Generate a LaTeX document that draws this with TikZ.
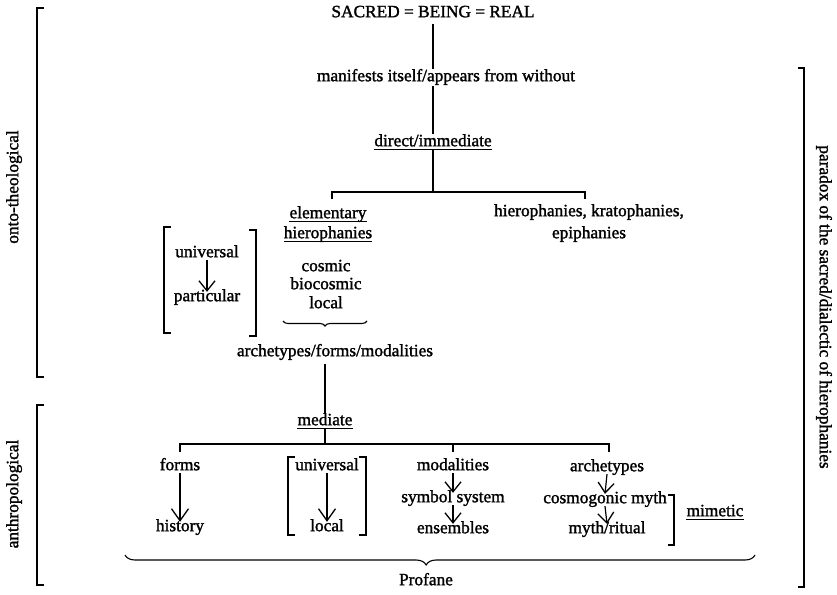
\documentclass[tikz,border=0pt]{standalone}
\usepackage{fontspec}
\setmainfont{Liberation Serif}[FakeBold=1.5]
\usetikzlibrary{arrows.meta,decorations.pathreplacing}
\begin{document}
\begin{tikzpicture}[x=1pt,y=-1pt,
  every node/.style={font=\fontsize{17.3}{20}\selectfont},
  txt/.style={inner xsep=0pt,inner ysep=0pt,text height=2ex,text depth=0.6ex},
  ln/.style={line width=1.2pt},
  ul/.style={line width=1pt},
  brk/.style={line width=1.2pt},
  arr/.style={line width=1.2pt,-{Straight Barb[length=10pt,width=16pt,line width=1.3pt]}},
  arrL/.style={line width=1.2pt,-{Straight Barb[length=12pt,width=17pt,line width=1.3pt]}},
  brc/.style={line width=1.1pt,decorate},
]
\useasboundingbox (0,0) rectangle (837,594);

% text nodes
\node[txt] (sacred) at (433,14) {SACRED = BEING = REAL};
\node[txt] (manif) at (446,78) {manifests itself/appears from without};
\node[txt] (direct) at (433,143) {direct/immediate};
\node[txt] (elem) at (328,215) {elementary};
\node[txt] (hiero) at (328,235) {hierophanies};
\node[txt] (krato) at (589,213) {hierophanies, kratophanies,};
\node[txt] (epiph) at (589,235) {epiphanies};
\node[txt] (univA) at (207,254) {universal};
\node[txt] (partA) at (207,298) {particular};
\node[txt] (cosmic) at (326,268) {cosmic};
\node[txt] (biocos) at (326,286) {biocosmic};
\node[txt] (localA) at (326,305) {local};
\node[txt] (atypes) at (335,353) {archetypes/forms/modalities};
\node[txt] (mediate) at (325,422) {mediate};
\node[txt] (forms) at (180,467) {forms};
\node[txt] (history) at (180,528) {history};
\node[txt] (univB) at (327,467) {universal};
\node[txt] (localB) at (327,528) {local};
\node[txt] (modal) at (453,467) {modalities};
\node[txt] (symbol) at (453,499) {symbol system};
\node[txt] (ensem) at (453,530) {ensembles};
\node[txt] (archB) at (607,468) {archetypes};
\node[txt] (cosmo) at (605,500) {cosmogonic myth};
\node[txt] (mythr) at (607,530) {myth/ritual};
\node[txt] (mimetic) at (715,513) {mimetic};
\node[txt] (profane) at (426,582) {Profane};
\node[txt,rotate=90] (onto) at (15,187) {onto-theological};
\node[txt,rotate=90] (anthro) at (15,494) {anthropological};
\node[txt,rotate=-90] (paradox) at (823,307) {paradox of the sacred/dialectic of hierophanies};

% underlines
\foreach \n in {direct,elem,hiero,mediate,mimetic}
  \draw[ul] (\n.south west) -- (\n.south east);

% upper tree
\draw[ln] ([yshift=-4pt]sacred.south) -- ([yshift=3pt]sacred.south |- manif.north);
\draw[ln] ([yshift=-2pt]manif.south -| direct.north) -- ([yshift=3pt]direct.north);
\coordinate (jA) at (433,192);
\coordinate (cL) at (332,192);
\coordinate (cR) at (585,192);
\coordinate (cLd) at (332,199);
\coordinate (cRd) at (585,199);
\draw[ln] (direct.south) -- (jA);
\draw[ln] (cLd) -- (cL) -- (cR) -- (cRd);
\draw[arr] (univA.south) -- (partA.north);
\draw[brc,decoration={brace,mirror,amplitude=5pt}] (283,321) -- (367,321);

% small brackets upper
\draw[brk] (171,227) -- (164,227) -- (164,333) -- (171,333);
\draw[brk] (249,230) -- (256,230) -- (256,336) -- (249,336);

% lower tree
\draw[ln] ([yshift=-5pt]atypes.south -| mediate.north) -- ([yshift=2pt]mediate.north);
\coordinate (jB) at (325,444);
\coordinate (dL) at (180,444);
\coordinate (dR) at (609,444);
\coordinate (dM) at (453,444);
\coordinate (dLd) at (180,452);
\coordinate (dMd) at (453,452);
\coordinate (dRd) at (609,452);
\draw[ln] (mediate.south) -- (jB);
\draw[ln] (dLd) -- (dL) -- (dR) -- (dRd);
\draw[ln] (dM) -- (dMd);
\draw[arrL] (forms.south) -- (history.north);
\draw[arrL] (univB.south) -- (localB.north);
\draw[arr] (modal.south) -- (symbol.north);
\draw[arr] (symbol.south) -- (ensem.north);
\draw[arr] (archB.south) -- (cosmo.north);
\draw[arr] (cosmo.south) -- (mythr.north);

% lower brackets
\draw[brk] (295,457) -- (288,457) -- (288,535) -- (295,535);
\draw[brk] (359,457) -- (366,457) -- (366,535) -- (359,535);
\draw[brk] (668,495) -- (674,495) -- (674,545) -- (668,545);

% big brace
\draw[brc,decoration={brace,mirror,amplitude=10pt,aspect=0.478}] (125,555) -- (755,555);

% side brackets
\draw[brk] (44,8) -- (37,8) -- (37,377) -- (44,377);
\draw[brk] (44,405) -- (37,405) -- (37,585) -- (44,585);
\draw[brk] (798,68) -- (804,68) -- (804,587) -- (798,587);
\end{tikzpicture}
\end{document}
